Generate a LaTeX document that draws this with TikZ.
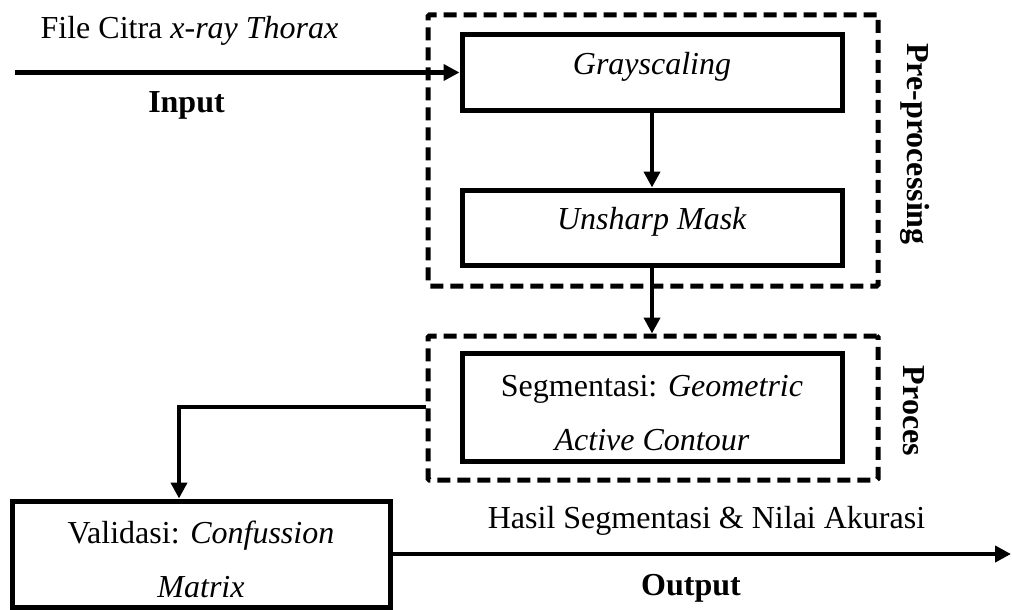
\documentclass[tikz,border=0pt]{standalone}
\usepackage{fontspec}
\setmainfont{Liberation Serif}
\usetikzlibrary{arrows.meta,calc}

\tikzset{
  procbox/.style={draw, line width=5pt, minimum width=380pt, align=center,
    font=\fontsize{32}{54}\selectfont},
  group/.style={draw, line width=5pt, dash pattern=on 13pt off 7pt, rounded corners=1.5pt},
  flow/.style={line width=4.6pt, -{Triangle[length=16pt,width=16pt]}},
  caption/.style={font=\fontsize{32}{38}\selectfont, inner sep=0pt},
  stage/.style={font=\fontsize{32}{38}\selectfont\bfseries, inner sep=0pt},
}

\begin{document}
\begin{tikzpicture}[x=1pt,y=-1pt]
  \useasboundingbox (0,0) rectangle (1012,610);

  % stage groups
  \node[group, minimum width=450pt, minimum height=271pt] (pre) at (653,150.5) {};
  \node[group, minimum width=450pt, minimum height=144pt] (proc) at (653,408) {};

  % processing steps
  \node[procbox, minimum height=75pt, text depth=19pt] (gray) at (652,72.5) {\textit{Grayscaling}};
  \node[procbox, minimum height=75pt, text depth=19pt] (mask) at (652,227.5) {\textit{Unsharp Mask}};
  \node[procbox, minimum height=108pt] (seg) at (652,407)
    {\rule{0pt}{33pt}Segmentasi: \textit{Geometric}\\\textit{Active Contour}};
  \node[procbox, minimum width=378pt, minimum height=106pt] (val) at (201,554)
    {\rule{0pt}{33pt}Validasi: \textit{Confussion}\\\textit{Matrix}};

  % stage titles
  \node[stage, rotate=-90] (pretitle) at (915,144) {Pre-processing};
  \node[stage, rotate=-90] (proctitle) at (914,411) {Proces};

  % input and output labels
  \node[caption] (infile) at (189.5,31) {File Citra \textit{x-ray Thorax}};
  \node[stage] (inlabel) at (186.5,105) {Input};
  \node[caption] (result) at (706.5,521) {Hasil Segmentasi \& Nilai Akurasi};
  \node[stage] (outlabel) at (691,588) {Output};

  % connectors
  \coordinate (src) at (15,72.5);
  \coordinate (sink) at (1011,554);
  \coordinate (bend) at (179,407);

  \draw[flow] (src) -- (gray.west);
  \draw[flow] (gray.south) -- (mask.north);
  \draw[flow] (mask.south) -- (proc.north -| mask.south);
  \draw[flow] (seg.center -| proc.west) -- (bend) -- (bend |- val.north);
  \draw[flow] (val.east) -- (sink);
\end{tikzpicture}
\end{document}
